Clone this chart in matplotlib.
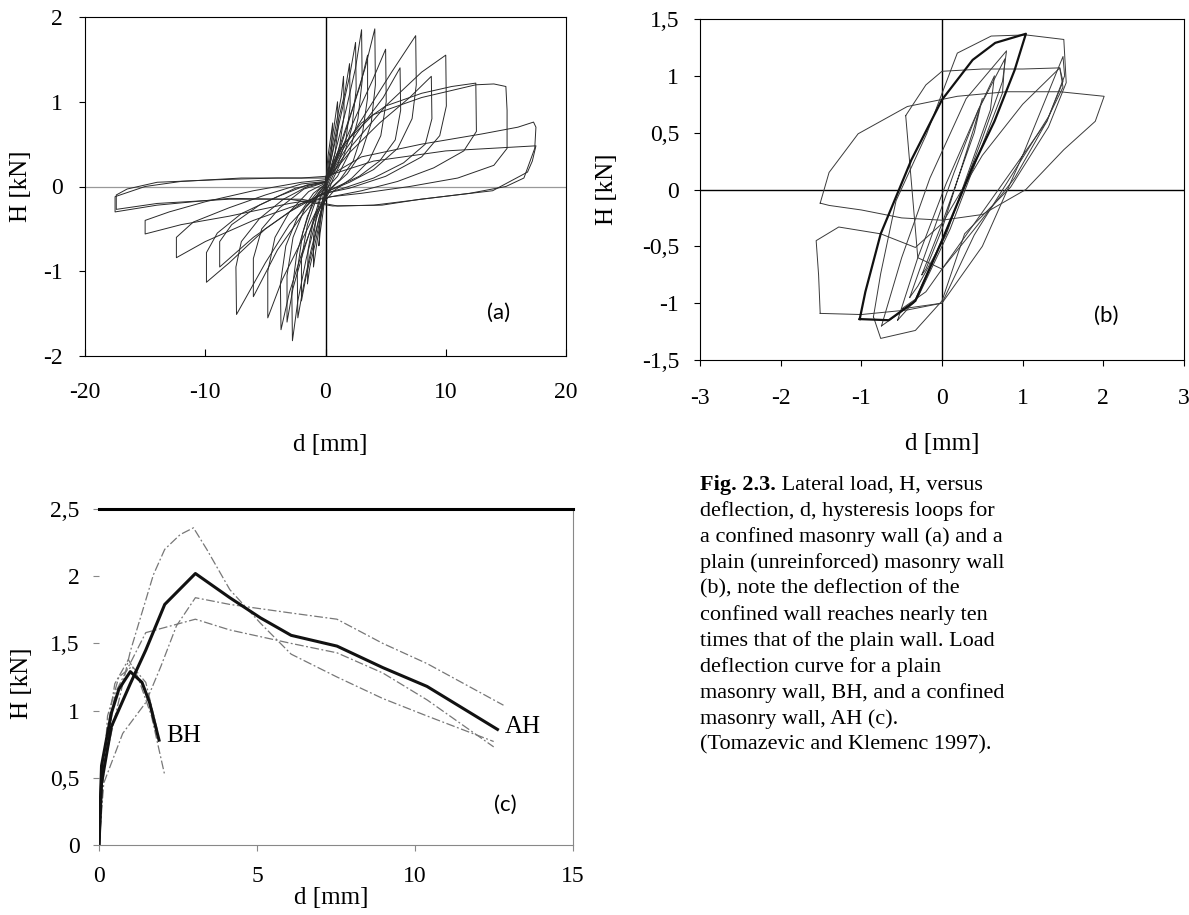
import numpy as np
import matplotlib.pyplot as plt

# ---- data ----
# (a) confined wall: hysteresis loops, d [mm] / H [kN]
a_loops_d = [
    [0, 0.2, 0.45, 0.6, 0.5, 0.3, 0.05, -0.2, -0.45, -0.55, -0.45, -0.2, 0],
    [0, 0.3, 0.7, 1.0, 1.05, 0.8, 0.4, 0.05, -0.3, -0.7, -1.0, -1.0, -0.7, -0.3, 0],
    [0, 0.4, 0.9, 1.3, 1.5, 1.55, 1.2, 0.7, 0.15, -0.4, -0.9, -1.3, -1.5, -1.45, -1.0, -0.4, 0],
    [0, 0.5, 1.1, 1.6, 2.0, 2.05, 1.7, 1.0, 0.3, -0.5, -1.1, -1.6, -2.0, -2.0, -1.5, -0.7, 0],
    [0, 0.6, 1.3, 2.0, 2.5, 2.55, 2.2, 1.5, 0.6, -0.4, -1.2, -1.8, -2.3, -2.35, -1.9, -1.0, 0],
    [0, 0.8, 1.7, 2.5, 3.0, 3.05, 2.7, 2.0, 1.0, 0.1, -0.8, -1.6, -2.3, -2.75, -2.8, -2.4, -1.5, -0.6, 0],
    [0, 1.0, 2.0, 2.9, 3.5, 3.5, 3.1, 2.3, 1.2, 0.2, -0.9, -1.9, -2.7, -3.2, -3.2, -2.7, -1.7, -0.6, 0],
    [0, 1.0, 2.2, 3.3, 4.1, 4.15, 3.8, 3.0, 1.8, 0.5, -0.8, -2.0, -3.0, -3.7, -3.75, -3.3, -2.3, -1.0, 0],
    [0, 1.2, 2.6, 3.9, 5.0, 5.05, 4.6, 3.6, 2.2, 0.7, -0.8, -2.2, -3.6, -4.8, -4.8, -4.2, -3.0, -1.4, 0],
    [0, 1.5, 3.2, 4.8, 6.2, 6.25, 5.8, 4.5, 2.8, 1.0, -0.5, -2.0, -4.0, -6.0, -6.0, -5.3, -3.8, -1.8, 0],
    [0, 1.5, 3.5, 5.5, 7.5, 7.55, 7.2, 6.0, 4.0, 2.0, 0.3, -1.0, -3.0, -5.0, -7.4, -7.45, -7.0, -5.5, -3.5, -1.5, 0],
    [0, 2.0, 4.5, 7.0, 8.8, 8.85, 8.3, 6.5, 4.0, 1.5, -0.5, -3.0, -6.0, -8.8, -8.8, -7.8, -5.5, -2.5, 0],
    [0, 2.0, 5.0, 8.0, 10.0, 10.05, 9.5, 8.0, 5.0, 2.0, 0, -2.0, -5.0, -8.0, -9.9, -9.9, -9.0, -7.0, -4.0, -1.5, 0],
    [0, 1.0, 3.0, 5.0, 8.0, 10.5, 12.5, 12.55, 11.5, 9.0, 6.0, 3.0, 0.5, -2.0, -6.0, -10.0, -12.4, -12.4, -11.0, -8.0, -5.0, -2.0, 0],
    [0, 1.5, 4.0, 8.0, 12.5, 14.0, 15.0, 15.1, 15.1, 14.0, 11.0, 7.0, 3.0, 0.5, -3.0, -8.0, -12.0, -15.0, -15.0, -13.0, -10.0, -6.0, -2.0, 0],
    [0, 3.0, 8.0, 13.0, 16.0, 17.3, 17.5, 17.4, 16.5, 15.0, 12.0, 8.0, 4.0, 1.0, -2.0, -8.0, -14.0, -17.4, -17.4, -16.5, -14.0, -9.0, -4.0, 0],
    [0, 4.0, 10.0, 15.0, 17.5, 17.2, 16.8, 13.9, 7.9, 4.7, 0.6, -3.0, -8.0, -14.0, -17.5, -17.5, -15.0, -12.0, -7.0, -2.0, 0],
]
a_loops_h = [
    [0, 0.35, 0.6, 0.75, 0.45, 0.2, 0.02, -0.3, -0.55, -0.7, -0.4, -0.1, 0],
    [0, 0.35, 0.7, 1.0, 0.7, 0.4, 0.15, 0.0, -0.3, -0.65, -0.95, -0.6, -0.3, -0.08, 0],
    [0, 0.35, 0.75, 1.05, 1.3, 0.85, 0.5, 0.2, 0.02, -0.35, -0.7, -0.95, -1.15, -0.75, -0.4, -0.1, 0],
    [0, 0.35, 0.8, 1.1, 1.45, 0.95, 0.55, 0.25, 0.03, -0.35, -0.75, -1.05, -1.35, -0.85, -0.45, -0.12, 0],
    [0.02, 0.4, 0.85, 1.3, 1.7, 1.15, 0.7, 0.35, 0.08, -0.3, -0.75, -1.15, -1.55, -1.0, -0.55, -0.15, 0.02],
    [0.02, 0.4, 0.9, 1.4, 1.85, 1.25, 0.8, 0.4, 0.12, -0.02, -0.4, -0.85, -1.35, -1.82, -1.25, -0.8, -0.35, -0.08, 0.02],
    [0.03, 0.35, 0.8, 1.2, 1.55, 1.05, 0.65, 0.3, 0.08, -0.05, -0.35, -0.8, -1.2, -1.6, -1.05, -0.6, -0.25, -0.05, 0.03],
    [0.03, 0.4, 0.9, 1.4, 1.86, 1.2, 0.75, 0.4, 0.15, -0.02, -0.35, -0.8, -1.25, -1.69, -1.15, -0.7, -0.35, -0.08, 0.03],
    [0.04, 0.4, 0.85, 1.25, 1.62, 1.0, 0.6, 0.3, 0.1, -0.05, -0.3, -0.7, -1.1, -1.55, -1.0, -0.6, -0.3, -0.06, 0.04],
    [0.05, 0.4, 0.75, 1.05, 1.4, 0.9, 0.55, 0.3, 0.12, 0.0, -0.1, -0.35, -0.75, -1.3, -0.85, -0.5, -0.25, -0.03, 0.05],
    [0.05, 0.45, 0.9, 1.35, 1.78, 1.2, 0.8, 0.45, 0.2, 0.05, -0.05, -0.15, -0.45, -0.9, -1.51, -0.95, -0.65, -0.38, -0.15, 0.0, 0.05],
    [0.06, 0.4, 0.75, 1.05, 1.3, 0.8, 0.5, 0.28, 0.1, -0.02, -0.1, -0.3, -0.6, -0.95, -0.65, -0.45, -0.22, -0.02, 0.06],
    [0.05, 0.45, 0.95, 1.35, 1.55, 0.95, 0.6, 0.35, 0.12, -0.02, -0.08, -0.2, -0.5, -0.9, -1.13, -0.78, -0.55, -0.32, -0.12, 0.02, 0.05],
    [0.06, 0.4, 0.75, 0.95, 1.1, 1.18, 1.22, 0.65, 0.42, 0.22, 0.06, -0.05, -0.12, -0.2, -0.4, -0.65, -0.84, -0.6, -0.42, -0.25, -0.1, 0.03, 0.06],
    [0.08, 0.5, 0.85, 1.05, 1.2, 1.21, 1.18, 0.9, 0.45, 0.25, 0.1, 0.0, -0.08, -0.12, -0.2, -0.35, -0.45, -0.56, -0.4, -0.3, -0.18, -0.05, 0.05, 0.08],
    [0.1, 0.35, 0.5, 0.62, 0.7, 0.76, 0.7, 0.45, 0.1, 0.0, -0.08, -0.15, -0.22, -0.23, -0.15, -0.15, -0.2, -0.27, -0.1, -0.03, 0.05, 0.08, 0.1, 0.1],
    [0.12, 0.3, 0.42, 0.46, 0.48, 0.3, 0.17, -0.05, -0.15, -0.22, -0.23, -0.15, -0.14, -0.22, -0.3, -0.12, 0.0, 0.06, 0.1, 0.1, 0.12],
]

# (b) plain wall: hysteresis loops
b_loops_d = [
    [-0.25, 0.0, 0.2, 0.4, 0.5, 0.4, 0.2, 0.0, -0.2, -0.25],
    [-0.4, -0.15, 0.15, 0.45, 0.65, 0.6, 0.35, 0.05, -0.3, -0.4],
    [-0.55, -0.3, 0.05, 0.45, 0.78, 0.75, 0.45, 0.1, -0.3, -0.55],
    [-0.75, -0.5, -0.15, 0.3, 0.8, 0.75, 0.5, 0.15, -0.35, -0.75],
    [-0.85, -0.76, -0.57, -0.19, 0.19, 0.61, 1.04, 1.51, 1.54, 1.32, 0.85, 0.28, 0.0, -0.33, -0.76, -0.85],
    [-0.45, -0.2, 0.0, 0.5, 1.0, 1.46, 1.5, 1.3, 0.9, 0.4, 0.0, -0.3, -0.45],
    [-0.5, 0.0, 0.5, 1.0, 1.5, 1.52, 1.3, 0.8, 0.3, -0.2, -0.5],
    [-1.51, -1.53, -1.56, -1.28, -0.76, -0.33, 0.0, 0.5, 1.0, 1.46, 1.5, 1.32, 0.85, 0.4, 0.0, -0.43, -1.0, -1.51],
    [-1.51, -1.4, -1.04, -0.43, 0.19, 0.8, 1.46, 2.01, 1.9, 1.51, 1.04, 0.5, 0.0, -0.5, -1.0, -1.4, -1.51],
]
b_loops_h = [
    [-0.75, -0.3, 0.1, 0.5, 0.8, 0.55, 0.1, -0.35, -0.7, -0.75],
    [-0.95, -0.45, 0.15, 0.7, 1.0, 0.7, 0.2, -0.4, -0.85, -0.95],
    [-1.15, -0.6, 0.05, 0.7, 1.15, 0.85, 0.3, -0.35, -0.95, -1.15],
    [-1.2, -0.6, 0.1, 0.8, 1.22, 0.95, 0.45, -0.2, -1.0, -1.2],
    [-1.12, -0.74, -0.1, 0.49, 1.2, 1.35, 1.36, 1.32, 0.94, 0.55, 0.02, -0.39, -0.98, -1.24, -1.31, -1.12],
    [0.65, 0.92, 1.04, 1.06, 1.06, 1.07, 0.95, 0.6, 0.1, -0.35, -0.7, -0.6, 0.65],
    [-1.05, -1.0, -0.5, 0.3, 1.17, 1.0, 0.6, 0.1, -0.4, -0.9, -1.05],
    [-1.09, -0.75, -0.45, -0.33, -0.39, -0.51, -0.3, 0.3, 0.75, 1.07, 0.9, 0.64, 0.11, -0.4, -1.0, -1.06, -1.1, -1.09],
    [-0.12, 0.15, 0.49, 0.73, 0.82, 0.86, 0.86, 0.82, 0.6, 0.35, 0.0, -0.22, -0.27, -0.25, -0.18, -0.14, -0.12],
]
# heavy loop in (b)
b_main_d = [-1.02, -0.95, -0.76, -0.38, 0.0, 0.38, 0.66, 1.04, 0.9, 0.65, 0.38, 0.0, -0.33, -0.66, -1.02]
b_main_h = [-1.14, -0.9, -0.39, 0.26, 0.79, 1.14, 1.29, 1.37, 1.05, 0.6, 0.2, -0.45, -0.98, -1.15, -1.14]

# (c) envelopes
ah_d = [0, 0.08, 0.39, 0.99, 1.48, 2.08, 3.05, 4.14, 5.11, 6.08, 7.53, 8.98, 10.38, 12.61]
ah_h = [0, 0.46, 0.88, 1.2, 1.45, 1.79, 2.02, 1.84, 1.69, 1.56, 1.48, 1.32, 1.18, 0.86]
ah_tests_d = [
    [0, 0.15, 0.99, 1.72, 2.08, 2.57, 2.99, 3.41, 4.14, 5.11, 6.08, 7.53, 8.98, 10.38, 12.49],
    [0, 0.15, 0.75, 1.48, 1.96, 2.45, 3.05, 4.14, 5.96, 7.53, 8.98, 10.38, 12.8],
    [0, 0.08, 0.51, 1.48, 3.05, 4.14, 6.08, 7.53, 8.98, 10.38, 12.49],
]
ah_tests_h = [
    [0, 0.59, 1.44, 2.01, 2.2, 2.31, 2.36, 2.2, 1.9, 1.65, 1.42, 1.25, 1.09, 0.96, 0.77],
    [0, 0.46, 0.83, 1.06, 1.33, 1.63, 1.84, 1.79, 1.73, 1.68, 1.5, 1.35, 1.04],
    [0, 0.46, 1.13, 1.58, 1.68, 1.6, 1.5, 1.43, 1.28, 1.08, 0.73],
]
bh_d = [0, 0.08, 0.39, 0.63, 0.99, 1.36, 1.6, 1.9]
bh_h = [0, 0.59, 0.98, 1.16, 1.29, 1.21, 1.06, 0.78]
bh_tests_d = [
    [0, 0.2, 0.5, 0.93, 1.23, 1.66, 2.08],
    [0, 0.27, 0.63, 1.05, 1.48, 1.84],
]
bh_tests_h = [
    [0, 0.76, 1.2, 1.38, 1.25, 0.96, 0.52],
    [0, 0.96, 1.25, 1.33, 1.21, 0.86],
]

caption = [
    "deflection, d, hysteresis loops for",
    "a confined masonry wall (a) and a",
    "plain (unreinforced) masonry wall",
    "(b), note the deflection of the",
    "confined wall reaches nearly ten",
    "times that of the plain wall. Load",
    "deflection curve for a plain",
    "masonry wall, BH, and a confined",
    "masonry wall, AH (c).",
    "(Tomazevic and Klemenc 1997).",
]

# ---- figure ----
plt.rcParams['axes.unicode_minus'] = False
W, H = 1189, 915
serif = 'Liberation Serif'
tick_fs = 17
lab_fs = 18
cap_fs = 16
fig = plt.figure(figsize=(W / 100, H / 100), dpi=100)


def px_axes(left, top, right, bottom):
    return fig.add_axes([left / W, 1 - bottom / H, (right - left) / W, (bottom - top) / H])


def style_ticks(ax):
    for lab in ax.get_xticklabels() + ax.get_yticklabels():
        lab.set_fontfamily(serif)
        lab.set_fontsize(tick_fs)


# (a)
ax1 = px_axes(85, 17, 566, 356)
ax1.axhline(0, color='#999999', lw=0.9, zorder=1)
ax1.axvline(0, color='black', lw=1.0, zorder=1)
for d, h in zip(a_loops_d, a_loops_h):
    ax1.plot(d, h, color='#2a2a2a', lw=0.7, zorder=2)
ax1.set_xlim(-20, 20)
ax1.set_ylim(-2, 2)
ax1.set_xticks([-20, -10, 0, 10, 20])
ax1.set_yticks([-2, -1, 0, 1, 2])
ax1.set_yticklabels(['-2', '-1', '0', '1', '2'])
ax1.tick_params(axis='x', direction='in', length=5, pad=19)
ax1.tick_params(axis='y', direction='out', length=4, pad=12)
ax1.set_xlabel('d [mm]', fontfamily=serif, fontsize=lab_fs)
ax1.set_ylabel('H [kN]', fontfamily=serif, fontsize=lab_fs)
ax1.xaxis.set_label_coords(0.51, -0.23)
ax1.yaxis.set_label_coords(-0.11, 0.5)
ax1.text(14.4, -1.49, '(a)', fontfamily='Lato', fontsize=16, ha='center', va='center')
style_ticks(ax1)

# (b)
ax2 = px_axes(700, 19, 1184, 360)
ax2.axhline(0, color='black', lw=1.0, zorder=1)
ax2.axvline(0, color='black', lw=1.0, zorder=1)
for d, h in zip(b_loops_d, b_loops_h):
    ax2.plot(d, h, color='#3a3a3a', lw=0.7, zorder=2)
ax2.plot(b_main_d, b_main_h, color='#111111', lw=1.6, zorder=3)
ax2.set_xlim(-3, 3)
ax2.set_ylim(-1.5, 1.5)
ax2.set_xticks([-3, -2, -1, 0, 1, 2, 3])
ax2.set_yticks([-1.5, -1, -0.5, 0, 0.5, 1, 1.5])
ax2.set_yticklabels(['-1,5', '-1', '-0,5', '0', '0,5', '1', '1,5'])
ax2.tick_params(axis='x', direction='out', length=4, pad=16)
ax2.tick_params(axis='y', direction='out', length=4, pad=11)
ax2.set_xlabel('d [mm]', fontfamily=serif, fontsize=lab_fs)
ax2.set_ylabel('H [kN]', fontfamily=serif, fontsize=lab_fs)
ax2.xaxis.set_label_coords(0.5, -0.215)
ax2.yaxis.set_label_coords(-0.17, 0.5)
ax2.text(2.03, -1.11, '(b)', fontfamily='Lato', fontsize=16, ha='center', va='center')
style_ticks(ax2)

# (c)
ax3 = px_axes(99, 509, 573, 845)
dash = (0, (7, 2, 1.5, 2))
for d, h in zip(ah_tests_d, ah_tests_h):
    ax3.plot(d, h, color='#777777', lw=0.9, ls=dash)
for d, h in zip(bh_tests_d, bh_tests_h):
    ax3.plot(d, h, color='#777777', lw=0.9, ls=dash)
ax3.plot(ah_d, ah_h, color='#111111', lw=2.2)
ax3.plot(bh_d, bh_h, color='#111111', lw=2.2)
ax3.set_xlim(0, 15)
ax3.set_ylim(0, 2.5)
ax3.set_xticks([0, 5, 10, 15])
ax3.set_yticks([0, 0.5, 1, 1.5, 2, 2.5])
ax3.set_yticklabels(['0', '0,5', '1', '1,5', '2', '2,5'])
ax3.spines['left'].set_visible(False)
ax3.spines['top'].set_linewidth(2.2)
ax3.spines['right'].set_color('#888888')
ax3.spines['bottom'].set_color('#888888')
ax3.tick_params(axis='x', direction='out', length=4, pad=11, color='#888888')
ax3.tick_params(axis='y', direction='out', length=4, pad=10, color='#888888')
ax3.set_xlabel('d [mm]', fontfamily=serif, fontsize=lab_fs)
ax3.set_ylabel('H [kN]', fontfamily=serif, fontsize=lab_fs)
ax3.xaxis.set_label_coords(0.49, -0.125)
ax3.yaxis.set_label_coords(-0.14, 0.48)
ax3.text(2.14, 0.81, 'BH', fontfamily=serif, fontsize=lab_fs, ha='left', va='center')
ax3.text(12.83, 0.88, 'AH', fontfamily=serif, fontsize=lab_fs, ha='left', va='center')
ax3.text(12.86, 0.30, '(c)', fontfamily='Lato', fontsize=16, ha='center', va='center')
style_ticks(ax3)

# caption
cap_x = 700 / W
t0 = fig.text(cap_x, 1 - 485 / H, 'Fig. 2.3.', fontfamily=serif, fontsize=cap_fs,
              fontweight='bold', va='center', ha='left')
ax3.annotate(' Lateral load, H, versus', xy=(1, 0.5), xycoords=t0, annotation_clip=False,
             fontfamily=serif, fontsize=cap_fs, va='center', ha='left')
for i, line in enumerate(caption):
    fig.text(cap_x, 1 - (485 + 26 * (i + 1)) / H, line, fontfamily=serif, fontsize=cap_fs,
             va='center', ha='left')

fig.savefig('out.png', dpi=100)
